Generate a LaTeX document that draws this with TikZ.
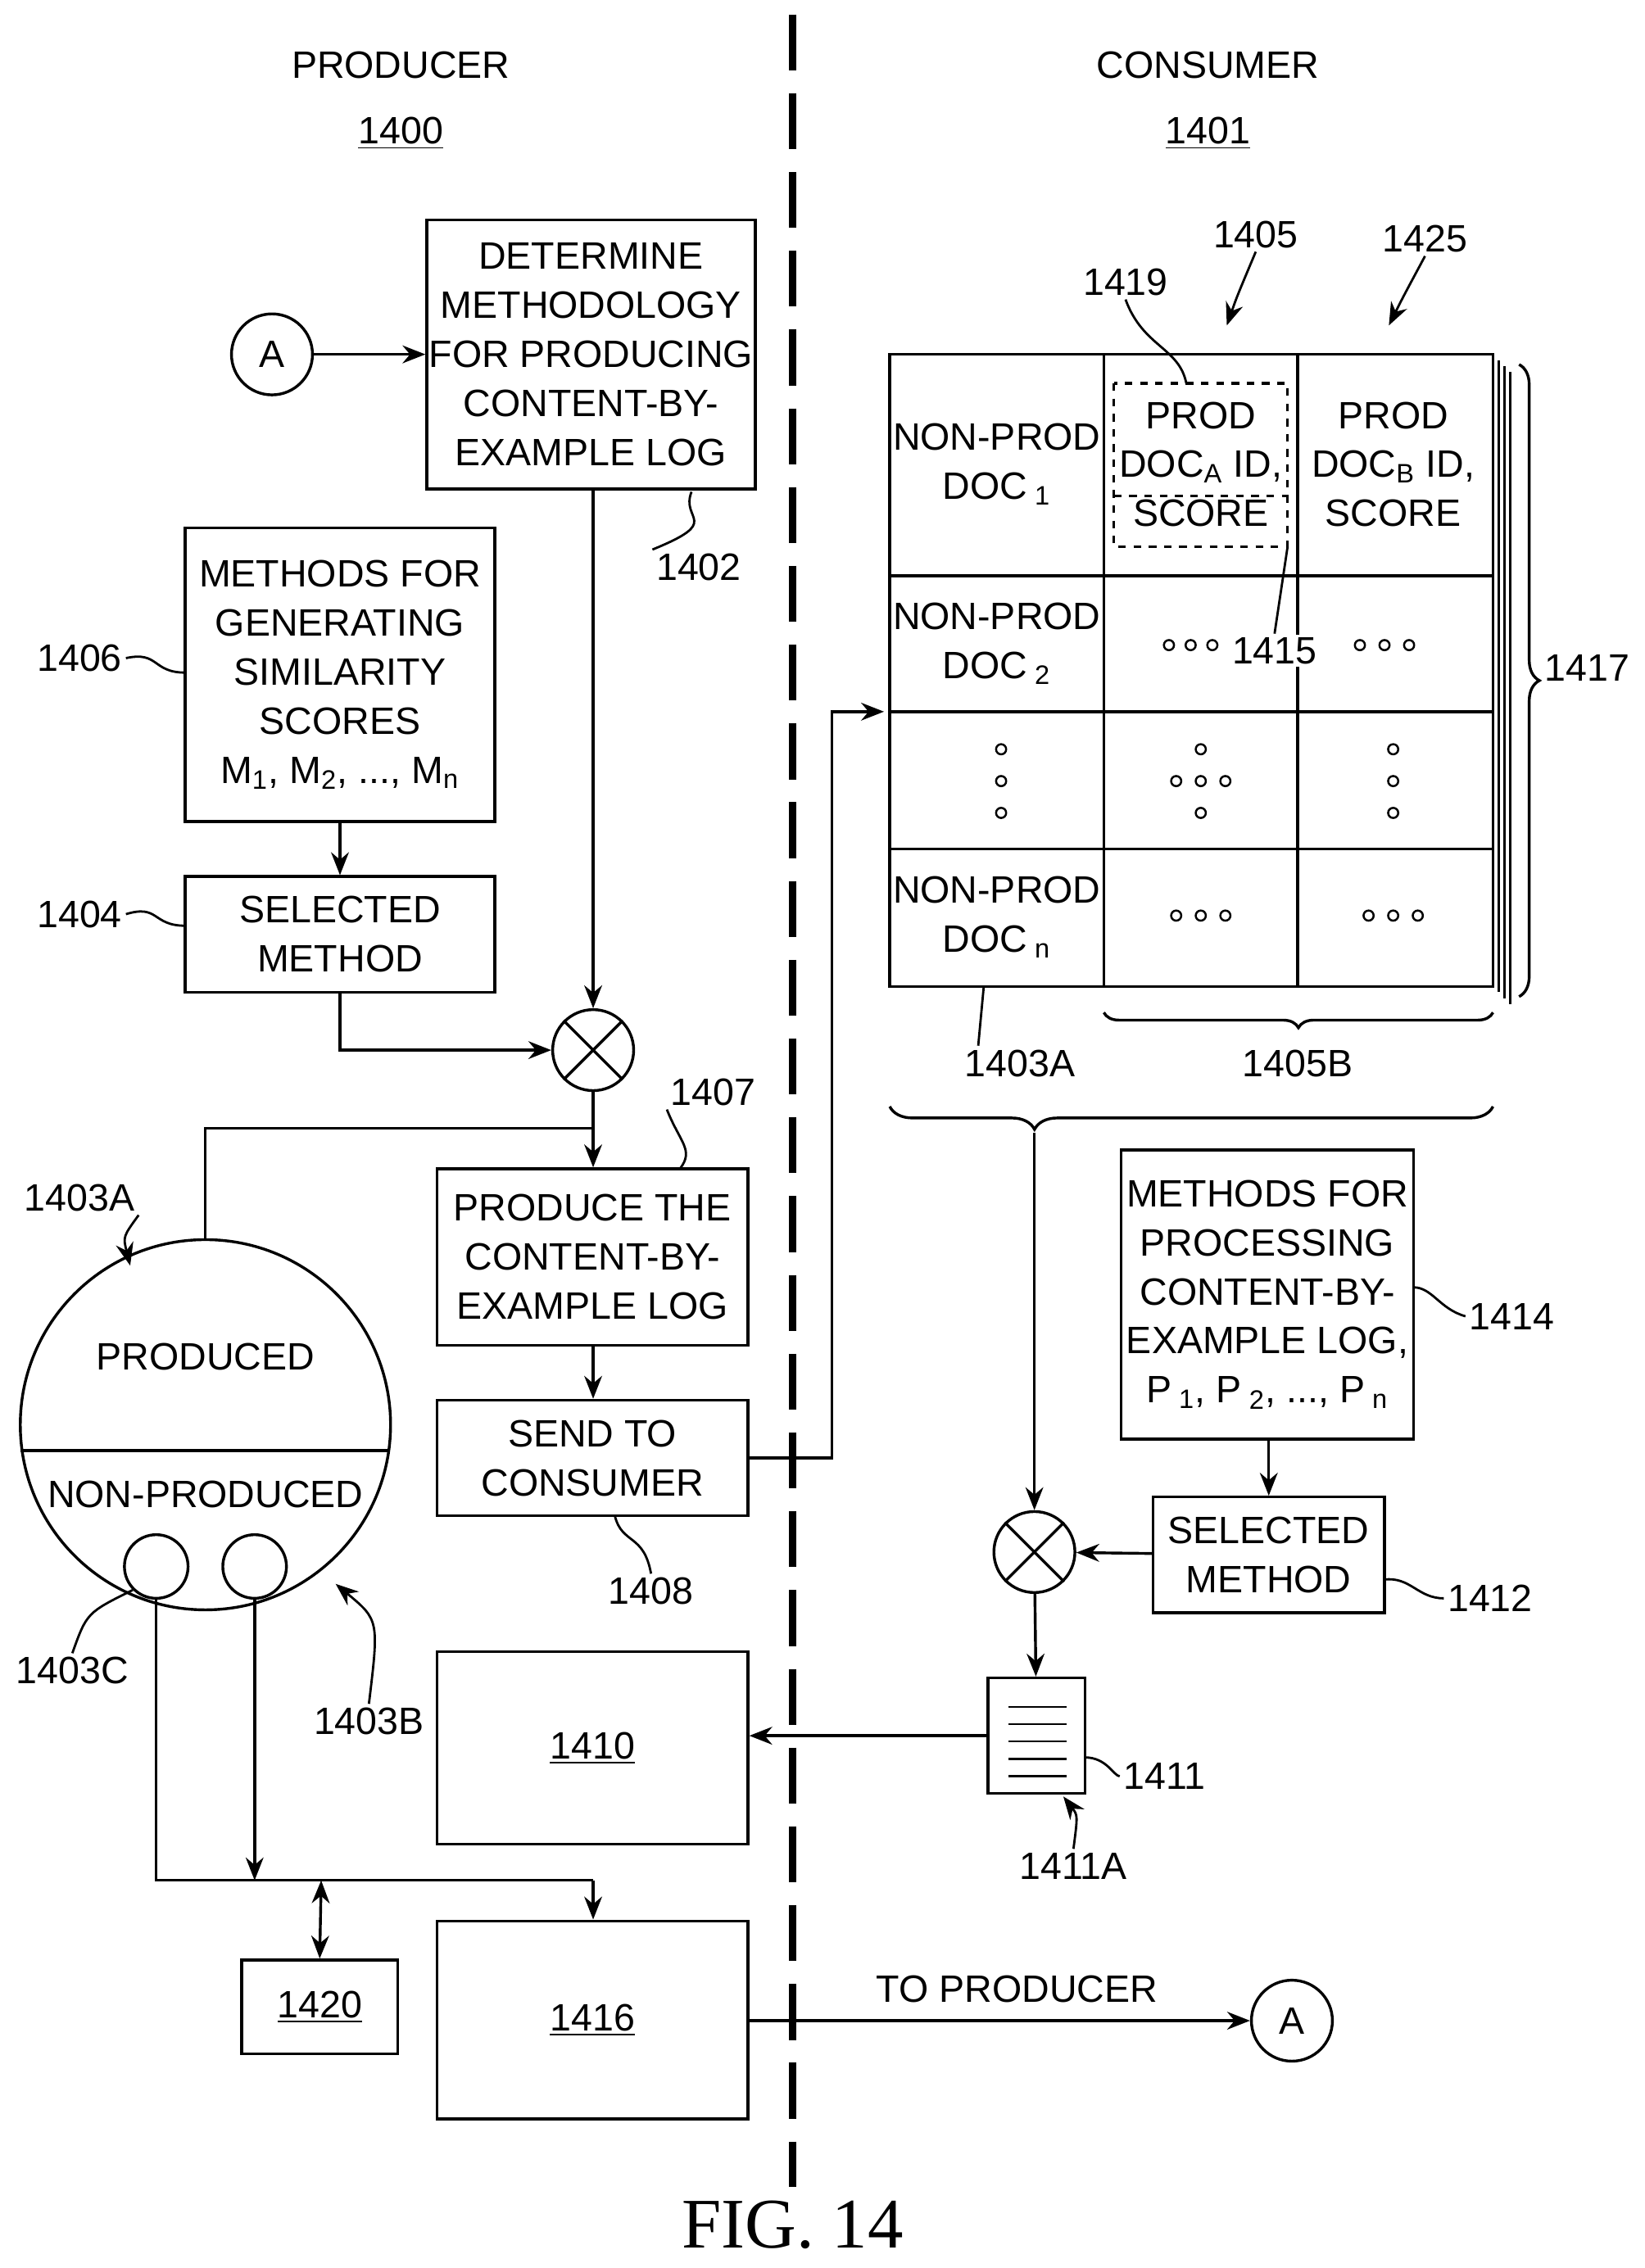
\documentclass[tikz,border=0pt]{standalone}
\usepackage{fontspec}
\setmainfont{Liberation Sans}
\newfontfamily\figfont{Liberation Serif}
\usetikzlibrary{arrows.meta,decorations.pathreplacing}

\begin{document}
\begin{tikzpicture}[x=0.02cm, y=-0.02cm, line width=1.1pt, >={Stealth[length=9pt,width=7pt]},
    font=\fontsize{15}{19.3}\selectfont,
    box/.style={draw, align=center, inner sep=0pt},
    ring/.style={circle, draw, inner sep=0pt},
    lab/.style={inner sep=1pt},
    cell/.style={align=center},
    dot/.style={circle, draw, line width=0.8pt, inner sep=0pt, minimum size=0.14cm},
    lead/.style={line width=0.9pt}]
    \useasboundingbox (0,0) rectangle (1137,1568);

    % divider
    \draw[line width=3pt, dash pattern=on 22pt off 9pt] (548,10) -- (548,1512);
    \node (prod) at (277,45) {PRODUCER};
    \node (n1400) at (277,92) {\underline{1400}};
    \node (cons) at (835,45) {CONSUMER};
    \node (n1401) at (835,92) {\underline{1401}};

    % producer side
    \node[box, minimum width=4.54cm, minimum height=3.72cm] (b1402) at (408.5,245) {DETERMINE\\METHODOLOGY\\FOR PRODUCING\\CONTENT-BY-\\EXAMPLE LOG};
    \node[ring, minimum size=1.12cm] (a1) at (188,245) {A};
    \draw[->] (a1) -- (b1402);
    \node[box, minimum width=4.28cm, minimum height=4.06cm] (b1406) at (235,466.5) {METHODS FOR\\GENERATING\\SIMILARITY\\SCORES\\M\textsubscript{1}, M\textsubscript{2}, ..., M\textsubscript{n}};
    \node[box, minimum width=4.28cm, minimum height=1.6cm] (b1404) at (235,646) {SELECTED\\METHOD};
    \draw[->] (b1406) -- (b1404);
    \node[ring, minimum size=1.12cm] (mix1) at (410,726) {};
    \draw (mix1.north east) -- (mix1.south west) (mix1.north west) -- (mix1.south east);
    \draw[->] (b1402.south -| mix1) -- (mix1);
    \draw[->] (b1404.south) |- (mix1.west);
    \node[box, minimum width=4.3cm, minimum height=2.44cm] (b1407) at (409.5,869) {PRODUCE THE\\CONTENT-BY-\\EXAMPLE LOG};
    \node[box, minimum width=4.3cm, minimum height=1.6cm] (b1408) at (409.5,1008) {SEND TO\\CONSUMER};
    \draw[->] (mix1) -- (b1407.north -| mix1);
    \draw[->] (b1407.south -| mix1) -- (b1408.north -| mix1);
    \node[box, minimum width=4.3cm, minimum height=2.66cm] (b1410) at (409.5,1208.5) {\underline{1410}};
    \node[box, minimum width=4.3cm, minimum height=2.74cm] (b1416) at (409.5,1396.5) {\underline{1416}};
    \node[box, minimum width=2.16cm, minimum height=1.3cm] (b1420) at (221,1387.5) {\underline{1420}};

    % repository
    \node[ring, minimum size=5.12cm] (repo) at (142,985) {};
    \draw (repo.180+8.9) -- (repo.-8.9);
    \node (tprod) at (142,938) {PRODUCED};
    \node (tnon) at (142,1033) {NON-PRODUCED};
    \node[ring, minimum size=0.88cm] (s1) at (108,1083) {};
    \node[ring, minimum size=0.88cm] (s2) at (176,1083) {};
    \coordinate (j1) at (176,1300);
    \coordinate (j2) at (222,1300);
    \draw (repo.north) -- (142,780) -- (410,780);
    \draw (s1.south) |- (410,1300);
    \draw[->] (410,1300) -- (b1416.north -| 410,0);
    \draw[->] (s2.south) -- (j1);
    \draw[<->] (j2) -- (b1420.north);

    % transfer
    \node[minimum size=0pt, inner sep=0pt] (tin) at (612,492) {};
    \draw[->] (b1408.east) -- (575,1008) -- (575,492) -- (tin);

    % table
    \draw (615,245) rectangle (1032,682);
    \draw (763,245) -- (763,682) (897,245) -- (897,682);
    \foreach \yy in {398,492,587} \draw (615,\yy) -- (1032,\yy);
    \foreach \xx/\yy in {1036/249,1040/253,1044/257} \draw[line width=0.8pt] (\xx,\yy) -- (\xx,682+\yy-245);
    \node[cell] (c11) at (689,321) {NON-PROD\\DOC\textsubscript{ 1}};
    \node[cell] (c21) at (689,445) {NON-PROD\\DOC\textsubscript{ 2}};
    \node[cell] (cn1) at (689,634) {NON-PROD\\DOC\textsubscript{ n}};
    \node[cell] (c13) at (963,321) {PROD\\DOC\textsubscript{B} ID,\\SCORE};
    \node[cell] (c12) at (830,321) {PROD\\DOC\textsubscript{A} ID,\\SCORE};
    \draw[dashed, line width=1pt] (770,265) rectangle (890,378) (770,343) -- (890,343);
    % dots
    \foreach \xx/\yy in {808/446,823/446,838/446, 940/446,957/446,974/446,
        813/633,830/633,847/633, 946/633,963/633,980/633,
        692/518,692/540,692/562, 963/518,963/540,963/562,
        830/518,813/540,830/540,847/540,830/562}
        \node[dot] at (\xx,\yy) {};
    \draw[decorate, decoration={brace, amplitude=8pt}] (1050,252) -- (1050,689);
    \node[lab] (n1417) at (1097,462) {1417};
    \draw[decorate, decoration={brace, amplitude=6pt, mirror}] (763,700) -- (1032,700);
    \node[lab] (n1405B) at (897,735) {1405B};
    \node[lab] (n1403At) at (705,735) {1403A};
    \draw[lead] (n1403At.north west) ++(12,0) -- (680,682);
    \draw[decorate, decoration={brace, amplitude=9pt, mirror, aspect=0.24}] (615,765) -- (1032,765);

    % processing
    \node[ring, minimum size=1.12cm] (mix2) at (715,1073) {};
    \draw (mix2.north east) -- (mix2.south west) (mix2.north west) -- (mix2.south east);
    \draw[->] (715,783) -- (mix2);
    \node[box, minimum width=4.04cm, minimum height=4cm] (b1414) at (876,895) {METHODS FOR\\PROCESSING\\CONTENT-BY-\\EXAMPLE LOG,\\P\textsubscript{ 1}, P\textsubscript{ 2}, ..., P\textsubscript{ n}};
    \node[box, minimum width=3.2cm, minimum height=1.6cm] (b1412) at (877,1075) {SELECTED\\METHOD};
    \draw[->] (b1414.south -| b1412) -- (b1412);
    \draw[->] (b1412) -- (mix2);
    \node[draw, minimum width=1.34cm, minimum height=1.6cm, inner sep=0pt] (doc) at (716.5,1200) {};
    \foreach \yy in {1180,1192,1204,1216,1228} \draw[line width=0.8pt] (697,\yy) -- (737,\yy);
    \draw[->] (mix2) -- (doc);
    \draw[->] (doc) -- (b1410.east |- doc);
    \node[ring, minimum size=1.12cm] (a2) at (893,1397) {A};
    \draw[->] (b1416.east |- a2) -- (a2);
    \node (tprd) at (703,1375) {TO PRODUCER};

    % reference labels
    \node[lab] (n1402) at (483,392) {1402};
    \draw[lead] (478,340) .. controls (470,360) and (500,360) .. (n1402.north west);
    \node[lab] (n1406) at (55,455) {1406};
    \draw[lead] (n1406.east) .. controls (110,450) and (105,465) .. (128,465);
    \node[lab] (n1404) at (55,632) {1404};
    \draw[lead] (n1404.east) .. controls (110,625) and (105,640) .. (128,640);
    \node[lab] (n1407) at (493,755) {1407};
    \draw[lead] (n1407.south west) .. controls (470,790) and (480,795) .. (470,808);
    \node[lab] (n1408) at (450,1100) {1408};
    \draw[lead] (425,1048) .. controls (430,1068) and (445,1060) .. (n1408.north);
    \node[lab] (n1403A) at (55,828) {1403A};
    \draw[lead, ->] (n1403A.south east) .. controls (85,855) .. (90,875);
    \node[lab] (n1403C) at (50,1155) {1403C};
    \draw[lead] (n1403C.north) .. controls (60,1115) .. (s1.south west);
    \node[lab] (n1403B) at (255,1190) {1403B};
    \draw[lead, ->] (n1403B.north) .. controls (262,1120) .. (232,1095);
    \node[lab] (n1405) at (868,162) {1405};
    \draw[lead, ->] (n1405.south) .. controls (855,205) .. (848,225);
    \node[lab] (n1425) at (985,165) {1425};
    \draw[lead, ->] (n1425.south) .. controls (970,205) .. (960,225);
    \node[lab] (n1419) at (778,195) {1419};
    \draw[lead] (n1419.south) .. controls (790,240) and (815,240) .. (820,265);
    \node[lab, fill=white] (n1415) at (881,450) {1415};
    \draw[lead] (n1415.north) -- (890,378);
    \node[lab] (n1414) at (1045,910) {1414};
    \draw[lead] (n1414.west) .. controls (995,905) and (990,890) .. (977,890);
    \node[lab] (n1412) at (1030,1105) {1412};
    \draw[lead] (n1412.west) .. controls (980,1105) and (975,1090) .. (957,1092);
    \node[lab] (n1411) at (805,1228) {1411};
    \draw[lead] (n1411.west) .. controls (770,1228) and (765,1215) .. (750,1215);
    \node[lab] (n1411A) at (742,1290) {1411A};
    \draw[lead, ->] (n1411A.north) .. controls (745,1255) .. (735,1242);

    \node[font=\figfont\fontsize{28}{32}\selectfont] (fig) at (548,1538) {FIG. 14};
\end{tikzpicture}
\end{document}
